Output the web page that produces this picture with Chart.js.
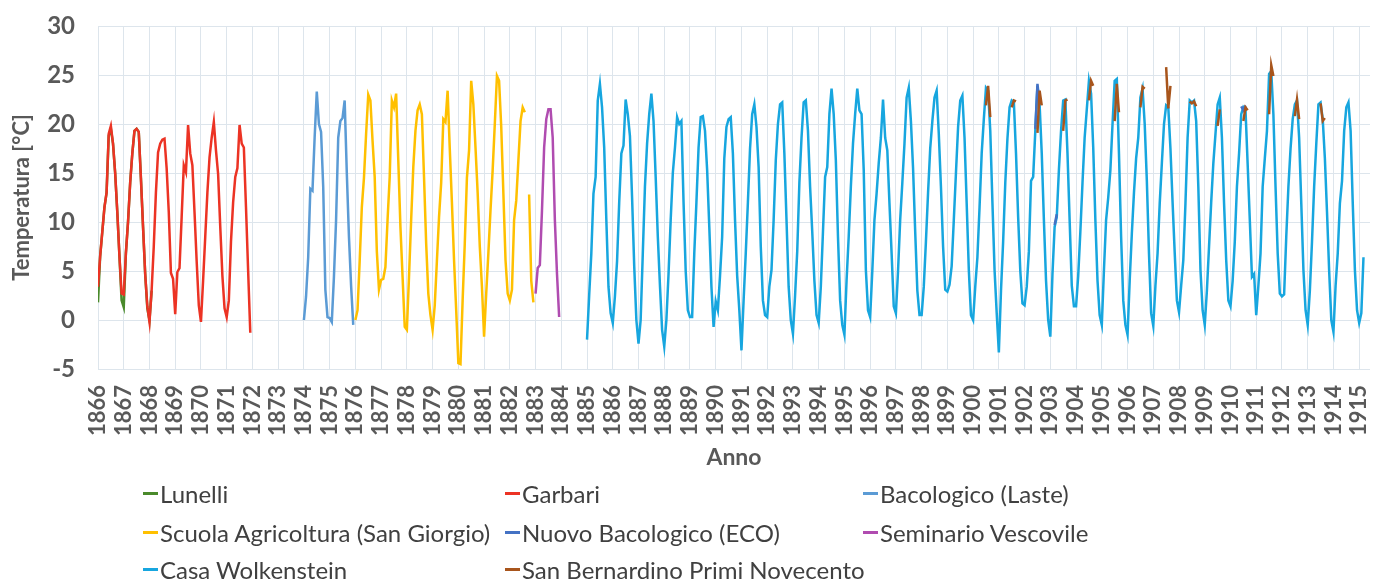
<!DOCTYPE html>
<html lang="it">
<head>
<meta charset="utf-8">
<title>Temperature mensili 1866–1915</title>
<script src="https://cdn.jsdelivr.net/npm/chart.js@4.4.1/dist/chart.umd.min.js"></script>
<style>
  html, body { margin: 0; padding: 0; background: #ffffff; }
  #wrap { position: relative; width: 1378px; height: 582px; overflow: hidden; }
  #chart { position: absolute; left: 0; top: 0; }
  #legend { position: absolute; left: 0; top: 0; width: 1378px; height: 582px;
            font-family: Lato, "Open Sans", sans-serif; font-size: 24px; color: #404040; }
  .item { position: absolute; display: flex; align-items: center; white-space: nowrap; height: 28px; }
  .item i { display: inline-block; width: 15px; height: 3px; margin-right: 2px; }
</style>
</head>
<body>
<div id="wrap">
  <canvas id="chart" width="1378" height="475"></canvas>
  <div id="legend"></div>
</div>
<script>
// Year tick labels on the time axis
const YEARS = [1866, 1867, 1868, 1869, 1870, 1871, 1872, 1873, 1874, 1875,
  1876, 1877, 1878, 1879, 1880, 1881, 1882, 1883, 1884, 1885,
  1886, 1887, 1888, 1889, 1890, 1891, 1892, 1893, 1894, 1895,
  1896, 1897, 1898, 1899, 1900, 1901, 1902, 1903, 1904, 1905,
  1906, 1907, 1908, 1909, 1910, 1911, 1912, 1913, 1914, 1915];
const Y_TICKS = [-5, 0, 5, 10, 15, 20, 25, 30];

// Monthly mean temperatures (°C), January first, one row per year
const lunelliStart = 1866;
const lunelli = [
  1.8, 6.5, 9.0, 11.5, 13.0, 18.8, 19.5, 18.0, 15.0, 11.0, 6.5, 2.0,
  1.3, 6.8, 10.0, 14.0, 17.0, 19.3, 19.5, 19.2, 14.5, 9.5, 4.7, 1.2,
  0.0, 3.0
];

const garbariStart = 1866;
const garbari = [
  3.4, 6.5, 9.0, 11.5, 13.0, 19.0, 19.8, 18.0, 15.0, 11.0, 6.5, 2.7,
  2.6, 6.8, 10.0, 14.0, 17.0, 19.3, 19.5, 19.2, 14.5, 9.5, 4.7, 1.4,
  -0.2, 3.0, 7.5, 13.0, 17.1, 18.0, 18.4, 18.5, 15.5, 11.0, 4.8, 4.2,
  0.6, 4.9, 5.3, 10.5, 15.8, 15.1, 19.9, 17.0, 15.8, 11.0, 6.0, 1.5,
  -0.2, 4.0, 8.5, 13.0, 16.6, 18.6, 20.2, 17.3, 14.9, 9.5, 4.5, 1.2,
  0.3, 2.0, 8.0, 12.0, 14.6, 15.5, 19.9, 18.0, 17.6, 11.5, 5.0, -1.3
];

const bacologicoStart = 1874;
const bacologico = [
  0.0, 2.4, 6.4, 13.4, 13.2, 18.6, 23.3, 20.0, 19.2, 13.6, 3.1, 0.3,
  0.2, -0.2, 4.4, 10.2, 18.6, 20.3, 20.6, 22.4, 15.0, 8.5, 3.5, -0.5
];

const scuolaStart = 1876;
const scuola = [
  0.0, 1.0, 6.0, 11.5, 14.5, 19.0, 23.0, 22.4, 18.3, 14.6, 7.0, 3.1,
  4.1, 4.2, 5.4, 10.2, 14.6, 22.4, 21.7, 23.1, 16.3, 9.5, 4.4, -0.7,
  -1.0, 4.4, 10.2, 15.6, 19.3, 21.4, 22.0, 21.0, 14.6, 7.8, 2.7, 0.5,
  -1.0, 1.5, 6.0, 10.5, 14.0, 20.5, 20.2, 23.4, 17.5, 12.0, 6.1, 1.0,
  -4.4, -4.5, 2.0, 7.8, 14.5, 17.3, 24.4, 22.0, 17.6, 13.0, 7.5, 3.4,
  -1.7, 2.7, 6.8, 11.2, 15.3, 20.0, 24.9, 24.4, 19.7, 12.9, 6.1, 2.7,
  2.0, 3.1, 10.2, 12.2, 16.3, 20.3, 21.7, 21.2, null, 12.8, 4.0, 1.8
];

const seminarioStart = 1883;
const seminario = [
  2.7, 5.3, 5.6, 11.2, 17.6, 20.5, 21.5, 21.5, 18.6, 10.2, 4.7, 0.3
];

const wolkensteinStart = 1885;
const wolkenstein = [
  -2.0, 2.5, 6.8, 12.9, 14.6, 22.4, 24.1, 21.7, 17.6, 10.2, 3.4, 0.7,
  -0.3, 2.4, 6.0, 12.0, 17.0, 17.8, 22.5, 21.0, 18.8, 12.5, 5.5, 0.0,
  -2.4, 0.0, 6.8, 13.6, 18.0, 21.0, 23.1, 20.3, 14.6, 8.5, 3.5, -1.0,
  -2.7, 0.0, 4.7, 10.2, 15.0, 17.6, 20.7, 20.0, 20.3, 12.0, 5.0, 1.0,
  0.3, 0.3, 6.8, 12.0, 17.6, 20.7, 20.8, 19.3, 15.3, 9.5, 3.4, -0.7,
  1.9, 1.0, 4.5, 8.5, 16.5, 19.7, 20.5, 20.7, 17.0, 10.2, 4.5, 1.0,
  -3.1, 2.0, 6.8, 12.0, 17.5, 21.0, 22.0, 19.7, 15.6, 7.5, 2.0, 0.5,
  0.3, 3.4, 5.1, 10.2, 16.3, 20.0, 22.0, 22.2, 17.0, 10.2, 3.4, 0.0,
  -1.4, 2.5, 7.0, 14.0, 18.6, 22.2, 22.4, 19.3, 13.6, 9.0, 4.0, 0.5,
  -0.3, 3.4, 9.0, 14.6, 15.6, 21.0, 23.6, 21.0, 16.3, 8.5, 2.0, -0.5,
  -1.5, 4.0, 8.5, 13.6, 18.0, 21.0, 23.6, 21.4, 21.0, 15.3, 5.1, 1.0,
  0.3, 5.0, 10.2, 12.9, 16.0, 18.6, 22.5, 18.6, 17.3, 11.9, 6.8, 1.4,
  0.7, 5.0, 10.2, 14.0, 18.0, 22.7, 23.7, 20.3, 15.5, 9.0, 3.0, 0.5,
  0.5, 3.4, 8.0, 13.0, 17.5, 20.3, 22.7, 23.4, 19.0, 13.6, 7.5, 3.1,
  2.9, 3.6, 5.5, 10.2, 15.0, 19.7, 22.4, 22.9, 18.6, 11.9, 5.1, 0.5,
  0.0, 3.4, 6.4, 11.5, 17.0, 20.5, 23.7, 23.4, 19.3, 12.0, 5.1, 0.7,
  -3.3, 3.0, 8.0, 14.0, 18.5, 21.7, 22.4, 22.2, 17.0, 10.5, 5.0, 1.7,
  1.5, 3.4, 7.0, 14.2, 14.6, 19.3, 23.9, 22.0, 17.0, 10.2, 4.0, 0.0,
  -1.7, 4.7, 9.5, 10.5, 15.3, 19.3, 22.4, 22.5, 17.0, 10.2, 3.5, 1.4,
  1.4, 4.5, 9.0, 14.0, 18.6, 21.5, 24.4, 23.1, 17.6, 10.2, 4.0, 0.5,
  -0.5, 5.1, 10.2, 12.5, 15.3, 20.0, 24.4, 24.6, 17.0, 8.5, 2.0, -0.5,
  -1.5, 4.0, 8.8, 13.0, 16.5, 18.6, 22.7, 23.6, 20.0, 14.2, 6.8, 0.7,
  -0.6, 3.5, 6.8, 11.9, 16.0, 20.0, 21.9, 21.7, 17.5, 12.0, 6.8, 2.0,
  0.8, 3.5, 6.1, 11.9, 18.6, 22.4, 22.2, 22.4, 20.3, 13.6, 5.1, 1.0,
  -0.5, 3.0, 7.5, 12.0, 16.0, 19.0, 22.0, 22.7, 18.6, 11.9, 6.1, 2.0,
  1.4, 4.0, 8.0, 13.6, 17.0, 21.0, 21.7, 21.4, 15.9, 10.2, 4.4, 4.7,
  0.5, 3.5, 6.8, 13.6, 16.5, 19.3, 25.1, 25.4, 21.0, 13.6, 6.8, 2.7,
  2.4, 2.6, 8.5, 13.6, 17.5, 20.5, 22.0, 22.4, 18.6, 11.9, 5.1, 1.0,
  -0.5, 3.0, 8.0, 13.6, 18.0, 22.0, 22.2, 20.5, 16.5, 11.0, 5.0, 0.0,
  -1.2, 3.5, 6.8, 11.9, 14.2, 19.3, 21.7, 22.2, 19.3, 11.9, 5.1, 1.0,
  -0.3, 0.7, 6.4
];

// Short summer records: [year, first month (1-12), values]
const nuovoBacologico = [
  [1902, 6, [19.5, 24.1, 22.0]],
  [1903, 3, [9.7, 10.8]],
  [1910, 6, [21.8, 21.4, 21.9]]
];

const sanBernardino = [
  [1900, 7, [21.9, 23.9, 20.7]],
  [1901, 7, [21.7, 22.4, 22.3]],
  [1902, 7, [19.1, 23.4, 21.9]],
  [1903, 7, [19.3, 22.4, 22.5]],
  [1904, 7, [22.4, 24.4, 23.9]],
  [1905, 7, [20.3, 24.1, 21.2]],
  [1906, 7, [21.7, 23.8, 23.6]],
  [1907, 7, [25.8, 21.6, 23.9]],
  [1908, 6, [22.3, 22.1, 22.3, 21.8]],
  [1909, 7, [19.8, 21.5]],
  [1910, 7, [20.3, 21.7, 21.4]],
  [1911, 7, [21.0, 26.0, 24.9]],
  [1912, 7, [20.8, 22.5, 20.5]],
  [1913, 7, [22.1, 20.3, 20.6]]
];

// Continuous monthly series -> points on the year axis
function monthly(startYear, values) {
  return values.map((v, i) => ({ x: startYear + i / 12, y: v }));
}
// Separate fragments -> points with a break between fragments
function fragments(list) {
  const pts = [];
  list.forEach(([yr, m, vals], k) => {
    if (k > 0) pts.push({ x: yr + (m - 1) / 12 - 1 / 24, y: null });
    vals.forEach((v, i) => pts.push({ x: yr + (m - 1 + i) / 12, y: v }));
  });
  return pts;
}

const series = [
  { label: 'Lunelli', color: '#4a8a2b', data: monthly(lunelliStart, lunelli), order: 8 },
  { label: 'Garbari', color: '#ec3324', data: monthly(garbariStart, garbari), order: 7 },
  { label: 'Bacologico (Laste)', color: '#5b9bd5', data: monthly(bacologicoStart, bacologico), order: 6 },
  { label: 'Scuola Agricoltura (San Giorgio)', color: '#ffc000', data: monthly(scuolaStart, scuola), order: 5 },
  { label: 'Nuovo Bacologico (ECO)', color: '#4472c4', data: fragments(nuovoBacologico), order: 2 },
  { label: 'Seminario Vescovile', color: '#b04cb0', data: monthly(seminarioStart, seminario), order: 4 },
  { label: 'Casa Wolkenstein', color: '#17a6df', data: monthly(wolkensteinStart, wolkenstein), order: 3 },
  { label: 'San Bernardino Primi Novecento', color: '#a8551c', data: fragments(sanBernardino), order: 1 }
];

const GRID = '#dde5ec';
const AXIS_TEXT = '#595959';
const FONT = 'Lato, "Open Sans", sans-serif';

new Chart(document.getElementById('chart'), {
  type: 'line',
  data: {
    datasets: series.map(s => ({
      label: s.label,
      data: s.data,
      borderColor: s.color,
      backgroundColor: s.color,
      borderWidth: 2.5,
      pointRadius: 0,
      tension: 0,
      spanGaps: false,
      order: s.order
    }))
  },
  options: {
    responsive: false,
    animation: false,
    events: [],
    layout: { padding: { left: 0, right: 8, top: 26, bottom: 0 } },
    plugins: { legend: { display: false }, tooltip: { enabled: false } },
    scales: {
      x: {
        type: 'linear',
        min: 1866,
        max: 1915.42,
        afterBuildTicks: s => { s.ticks = YEARS.map(v => ({ value: v })); },
        afterFit: s => { s.height = 106; s.paddingLeft = 0; s.paddingRight = 0; },
        grid: { color: GRID, lineWidth: 1, drawTicks: false },
        border: { display: false },
        ticks: {
          autoSkip: false, minRotation: 90, maxRotation: 90, padding: 16,
          color: AXIS_TEXT, font: { family: FONT, size: 22, weight: 'bold' },
          callback: v => String(v)
        },
        title: {
          display: true, text: 'Anno', color: AXIS_TEXT,
          font: { family: FONT, size: 23, weight: 'bold' },
          padding: { top: 0, bottom: 4 }
        }
      },
      y: {
        min: -5,
        max: 30,
        afterBuildTicks: s => { s.ticks = Y_TICKS.map(v => ({ value: v })); },
        afterFit: s => { s.width = 98; s.paddingTop = 0; s.paddingBottom = 0; },
        grid: { color: GRID, lineWidth: 1, drawTicks: false },
        border: { display: false },
        ticks: {
          padding: 23, color: AXIS_TEXT,
          font: { family: FONT, size: 24, weight: 'bold' }
        },
        title: {
          display: true, text: 'Temperatura [°C]', color: AXIS_TEXT,
          font: { family: FONT, size: 22, weight: 'bold' },
          padding: { top: 9, bottom: 0 }
        }
      }
    }
  }
});

// Legend laid out as a three-column grid under the axis title
const legendCols = [143, 505, 863];
const legendRows = [493, 532, 569];
const legend = document.getElementById('legend');
series.forEach((s, i) => {
  const item = document.createElement('div');
  item.className = 'item';
  item.style.left = legendCols[i % 3] + 'px';
  item.style.top = (legendRows[Math.floor(i / 3)] - 14) + 'px';
  const mark = document.createElement('i');
  mark.style.background = s.color;
  item.appendChild(mark);
  item.appendChild(document.createTextNode(s.label));
  legend.appendChild(item);
});
</script>
</body>
</html>
